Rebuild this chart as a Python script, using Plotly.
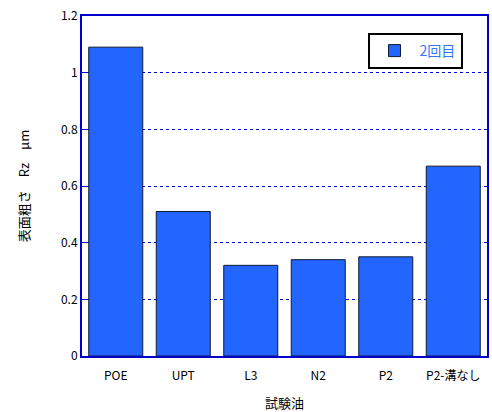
import plotly.graph_objects as go

categories = ["POE", "UPT", "L3", "N2", "P2", "P2-溝なし"]
values = [1.09, 0.51, 0.32, 0.34, 0.35, 0.67]
series_name = "2回目"
y_ticks = [0, 0.2, 0.4, 0.6, 0.8, 1.0, 1.2]

FONT = "Noto Sans CJK JP"

fig = go.Figure()
fig.add_trace(go.Bar(
    x=categories, y=values, name=series_name,
    marker=dict(color="#2266FF", line=dict(color="#111a33", width=1)),
    showlegend=True,
))

fig.update_layout(
    width=492, height=412,
    margin=dict(l=82, r=3, t=16, b=55),
    paper_bgcolor="white", plot_bgcolor="white",
    font=dict(family=FONT, size=12, color="black"),
    bargap=0.2,
    showlegend=True,
    legend=dict(
        x=0.705, y=0.95, xanchor="left", yanchor="top",
        bordercolor="black", borderwidth=2, bgcolor="white",
        font=dict(family=FONT, size=14, color="#3377FF"),
        itemwidth=40,
    ),
    xaxis=dict(
        title=dict(text="試験油", font=dict(family=FONT, size=13, color="black"), standoff=16),
        showline=True, linecolor="#0000CC", linewidth=2, mirror=True,
        ticks="", showgrid=False, ticklabelstandoff=8,
        tickfont=dict(family=FONT, size=12, color="black"),
    ),
    yaxis=dict(
        title=dict(text="表面粗さ　Rz　μm", font=dict(family=FONT, size=13, color="black"), standoff=28),
        range=[0, 1.2], tickvals=y_ticks,
        showline=True, linecolor="#0000CC", linewidth=2, mirror=True,
        ticks="inside", ticklen=6, tickcolor="#0000CC", tickwidth=1,
        showgrid=True, gridcolor="#0000CC", griddash="dot", gridwidth=1,
        zeroline=False,
        tickfont=dict(family=FONT, size=12, color="black"),
    ),
)

fig.write_html("out.html")
